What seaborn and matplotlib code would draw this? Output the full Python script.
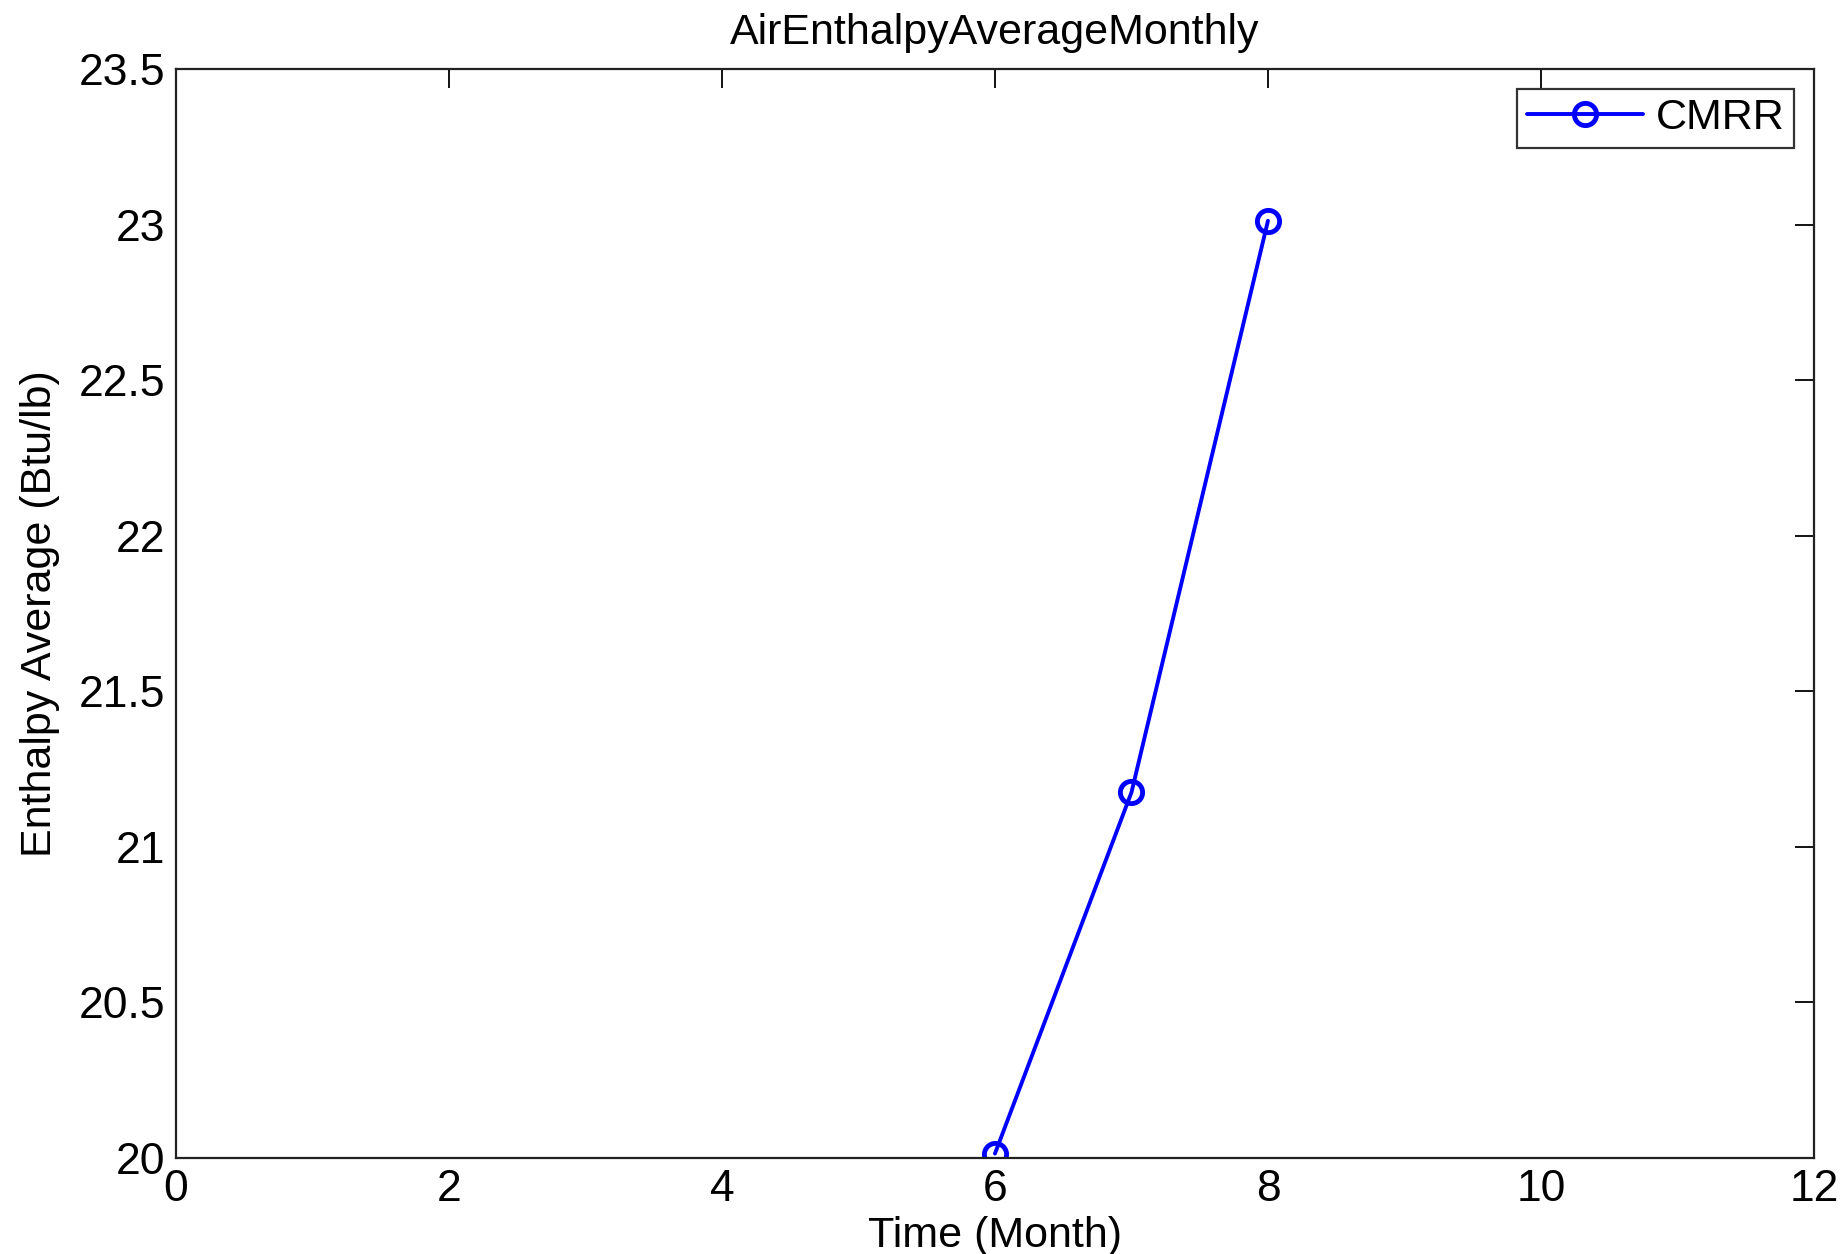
import matplotlib
matplotlib.use("Agg")
import matplotlib.pyplot as plt
import seaborn as sns
import pandas as pd

months = [6, 7, 8]
enthalpy = [20.014, 21.175, 23.012]
series_name = "CMRR"

sns.set_theme(style="white")
plt.rcParams['font.family'] = ['Liberation Sans', 'DejaVu Sans']
plt.rcParams['text.color'] = 'black'
plt.rcParams['axes.labelcolor'] = 'black'

df = pd.DataFrame({"Time": months, "Enthalpy": enthalpy, "Series": series_name})

fig = plt.figure(figsize=(18.41, 12.54), dpi=100)
ax = fig.add_axes([0.0956, 0.0766, 0.8897, 0.8684])

sns.lineplot(data=df, x="Time", y="Enthalpy", hue="Series", palette=["#0000ff"],
             marker="o", markersize=16, markerfacecolor="none", markeredgecolor="#0000ff",
             markeredgewidth=3.5, linewidth=2.8, ax=ax)

ax.set_xlim(0, 12)
ax.set_ylim(20, 23.5)
ax.set_xticks(range(0, 13, 2))
ax.set_yticks([20, 20.5, 21, 21.5, 22, 22.5, 23, 23.5])
ax.set_yticklabels(["20", "20.5", "21", "21.5", "22", "22.5", "23", "23.5"])
ax.tick_params(direction="in", length=14, width=1.3, top=True, right=True,
               labelsize=32, colors="black", labelcolor="black", pad=8)
for s in ax.spines.values():
    s.set_color("#222222")
    s.set_linewidth(1.6)

ax.set_title("AirEnthalpyAverageMonthly", fontsize=31, pad=18, color="black")
ax.set_xlabel("Time (Month)", fontsize=31, labelpad=4, color="black")
ax.set_ylabel("Enthalpy Average (Btu/lb)", fontsize=31, labelpad=13, color="black")

leg = ax.legend(loc="upper right", fontsize=31, frameon=True, fancybox=False,
                handlelength=2.7, handletextpad=0.3, borderpad=0.22, borderaxespad=0,
                bbox_to_anchor=(0.988, 0.982))
leg.get_frame().set_edgecolor("black")
leg.get_frame().set_linewidth(1.6)
for t in leg.get_texts():
    t.set_color("black")

fig.savefig("out.png", dpi=100, facecolor="white")
